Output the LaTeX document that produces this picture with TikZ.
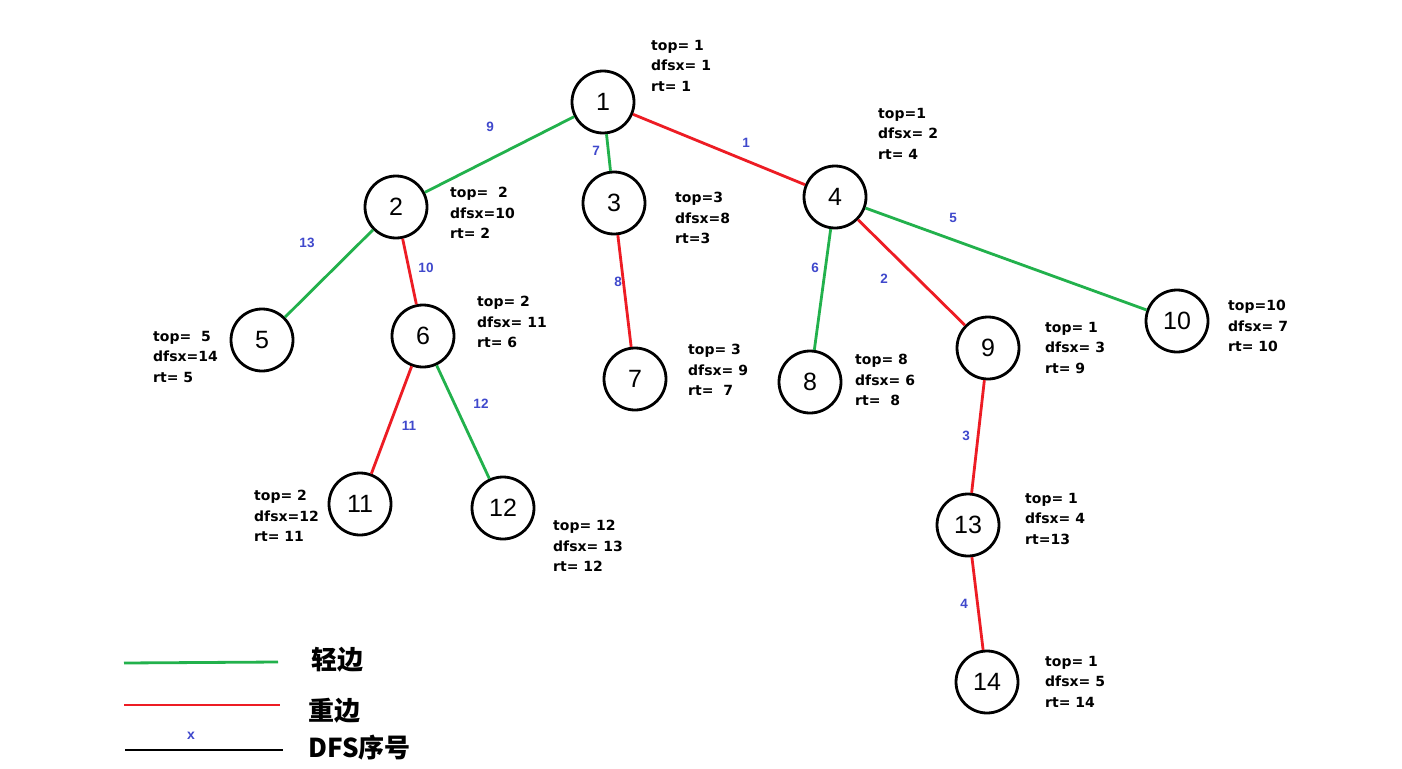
\documentclass[tikz,border=0pt]{standalone}
\usepackage{fontspec}
\setmainfont{Liberation Sans}
\newfontfamily\infofont{DejaVu Sans}
\newfontfamily\cjk{Noto Sans CJK SC}
\definecolor{lg}{RGB}{34,177,76}
\definecolor{hr}{RGB}{237,28,36}
\definecolor{lb}{RGB}{63,72,204}
\begin{document}
\begin{tikzpicture}[x=1pt,y=-1pt,
  vtx/.style={circle,draw=black,line width=2.8pt,minimum size=62pt,inner sep=0pt,font=\fontsize{25}{25}\selectfont},
  info/.style={anchor=north west,align=left,inner sep=0pt,font=\infofont\fontsize{14}{20.5}\selectfont\bfseries},
  light/.style={draw=lg,line width=2.8pt},
  heavy/.style={draw=hr,line width=2.8pt},
  num/.style={text=lb,font=\fontsize{13.5}{13.5}\selectfont\bfseries,inner sep=1pt},
  leg/.style={anchor=west,inner sep=0pt,font=\fontsize{26}{26}\selectfont\bfseries\cjk}]
\useasboundingbox (0,0) rectangle (1402,768);
\fill[white] (0,0) rectangle (1402,768);
% vertices
\node[vtx] (n1) at (603,102) {1};
\node[vtx] (n2) at (396,207) {2};
\node[vtx] (n3) at (614,203) {3};
\node[vtx] (n4) at (835,197) {4};
\node[vtx] (n5) at (262,340) {5};
\node[vtx] (n6) at (423,336) {6};
\node[vtx] (n7) at (635,379) {7};
\node[vtx] (n8) at (810,382) {8};
\node[vtx] (n9) at (988,348) {9};
\node[vtx] (n10) at (1177,321) {10};
\node[vtx] (n11) at (360,504) {11};
\node[vtx] (n12) at (503,508) {12};
\node[vtx] (n13) at (968,525) {13};
\node[vtx] (n14) at (987,682) {14};
% edges
\draw[light] (n1) -- (n2);
\draw[light] (n1) -- (n3);
\draw[heavy] (n1) -- (n4);
\draw[light] (n2) -- (n5);
\draw[heavy] (n2) -- (n6);
\draw[heavy] (n3) -- (n7);
\draw[light] (n4) -- (n8);
\draw[heavy] (n4) -- (n9);
\draw[light] (n4) -- (n10);
\draw[heavy] (n6) -- (n11);
\draw[light] (n6) -- (n12);
\draw[heavy] (n9) -- (n13);
\draw[heavy] (n13) -- (n14);
% edge numbers
\node[num] (e9) at (490,127) {9};
\node[num] (e7) at (596,151) {7};
\node[num] (e1) at (746,143) {1};
\node[num] (e13) at (307,243) {13};
\node[num] (e10) at (426,268) {10};
\node[num] (e8) at (618,282) {8};
\node[num] (e6) at (815,268) {6};
\node[num] (e2) at (884,279) {2};
\node[num] (e5) at (953,218) {5};
\node[num] (e11) at (409,426) {11};
\node[num] (e12) at (481,404) {12};
\node[num] (e3) at (966,436) {3};
\node[num] (e4) at (964,604) {4};
% info
\node[info] (i1) at (651,40) {top= 1\\dfsx= 1\\rt= 1};
\node[info] (i2) at (450,187) {top=\ \ 2\\dfsx=10\\rt= 2};
\node[info] (i3) at (675,192) {top=3\\dfsx=8\\rt=3};
\node[info] (i4) at (878,108) {top=1\\dfsx= 2\\rt= 4};
\node[info] (i5) at (153,331) {top=\ \ 5\\dfsx=14\\rt= 5};
\node[info] (i6) at (477,296) {top= 2\\dfsx= 11\\rt= 6};
\node[info] (i7) at (688,344) {top= 3\\dfsx= 9\\rt=\ \ 7};
\node[info] (i8) at (855,354) {top= 8\\dfsx= 6\\rt=\ \ 8};
\node[info] (i9) at (1045,322) {top= 1\\dfsx= 3\\rt= 9};
\node[info] (i10) at (1228,300) {top=10\\dfsx= 7\\rt= 10};
\node[info] (i11) at (254,490) {top= 2\\dfsx=12\\rt= 11};
\node[info] (i12) at (553,520) {top= 12\\dfsx= 13\\rt= 12};
\node[info] (i13) at (1025,493) {top= 1\\dfsx= 4\\rt=13};
\node[info] (i14) at (1045,656) {top= 1\\dfsx= 5\\rt= 14};
% legend
\coordinate (g1) at (124,663); \coordinate (g2) at (278,662);
\coordinate (r1) at (124,705); \coordinate (r2) at (280,705);
\coordinate (b1) at (125,750); \coordinate (b2) at (283,750);
\draw[light] (g1) -- (g2);
\draw[heavy] (r1) -- (r2);
\draw[black,line width=2.8pt] (b1) -- (b2);
\node[num,font=\fontsize{14}{14}\selectfont\bfseries] (lx) at (191,736) {x};
\node[leg] (t1) at (311,660) {轻边};
\node[leg] (t2) at (308,711) {重边};
\node[leg] (t3) at (308,748) {DFS序号};
\end{tikzpicture}
\end{document}
